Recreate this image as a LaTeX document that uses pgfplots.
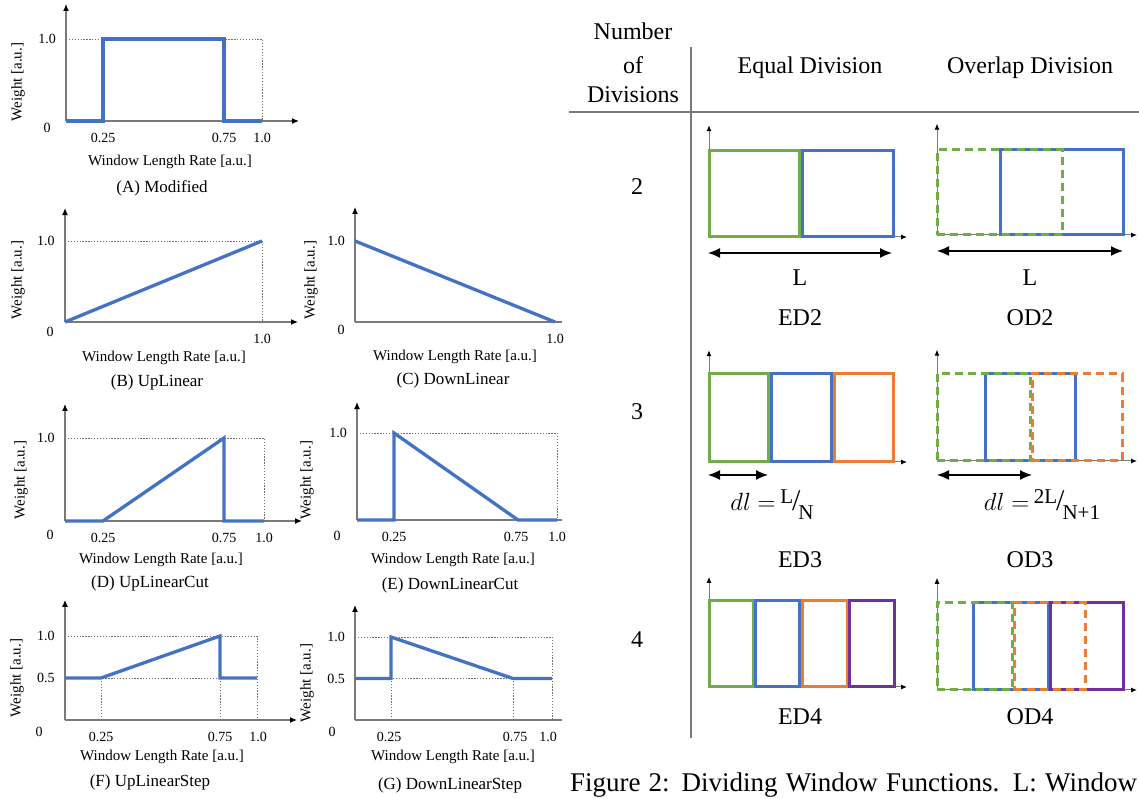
\documentclass[border=0pt]{standalone}
\usepackage{fontspec}
\setmainfont{Liberation Serif}
\usepackage{pgfplots}
\pgfplotsset{compat=1.18}
\usetikzlibrary{arrows.meta}
\definecolor{wblue}{HTML}{4472C4}
\definecolor{wgreen}{HTML}{70AD47}
\definecolor{worange}{HTML}{ED7D31}
\definecolor{wpurple}{HTML}{7030A0}
\definecolor{axgray}{HTML}{7A7A7A}
\definecolor{dotgray}{HTML}{707070}
\newcommand{\fsa}{\fontsize{14}{16}\selectfont}
\newcommand{\fsb}{\fontsize{15}{17}\selectfont}
\newcommand{\fsc}{\fontsize{17}{19}\selectfont}
\newcommand{\fsr}{\fontsize{24}{26}\selectfont}
\pgfplotsset{
  wf/.style={anchor=south west, xmin=0, ymin=0, x=1pt, clip=false,
    axis lines=left, enlargelimits=false,
    axis line style={draw=axgray, line width=1.2pt},
    x axis line style={-{Latex[length=7pt,width=6pt,color=black]}},
    y axis line style={-{Latex[length=7pt,width=6pt,color=black]}},
    major tick length=0pt, tick style={draw=none},
    tick label style={font=\fsa, inner sep=0pt},
    xticklabel style={anchor=center, yshift=-17pt},
    yticklabel style={anchor=center, xshift=-19pt},
    /pgf/number format/assume math mode=true},
  rf/.style={anchor=south west, xmin=0, ymin=0, x=1pt, clip=false,
    axis lines=left, enlargelimits=false,
    axis line style={draw=axgray, line width=1pt},
    x axis line style={-{Latex[length=6pt,width=5pt,color=black]}},
    y axis line style={-{Latex[length=6pt,width=5pt,color=black]}},
    xtick=\empty, ytick=\empty},
  wline/.style={draw=wblue, line width=3.3pt, line join=miter},
  dotline/.style={draw=dotgray, line width=0.9pt, dash pattern=on 1.3pt off 1.6pt},
  rect/.style={line width=3pt, line join=miter},
  drect/.style={line width=3pt, line join=miter, dash pattern=on 8pt off 5pt},
}
\begin{document}
\begin{tikzpicture}
\useasboundingbox (0,0) rectangle (1139pt,799pt);
% ---------------- (A) Modified
\begin{axis}[wf, at={(66pt,678pt)}, y=82pt, xmax=233, ymax=1.427,
  xtick={37,158,196}, xticklabels={0.25,0.75,1.0}, ytick={1}, yticklabels={1.0}]
\addplot[dotline] coordinates {(0,1) (196,1) (196,0)};
\addplot[wline] coordinates {(0,0) (37,0) (37,1) (158,1) (158,0) (196,0)};
\end{axis}
% ---------------- (B) UpLinear
\begin{axis}[wf, at={(65pt,477pt)}, y=81pt, xmax=233, ymax=1.407,
  xtick={197}, xticklabels={1.0}, ytick={1}, yticklabels={1.0}]
\addplot[dotline] coordinates {(0,1) (197,1) (197,0)};
\addplot[wline] coordinates {(0,0) (197,1)};
\end{axis}
% ---------------- (C) DownLinear
\begin{axis}[wf, at={(355pt,477pt)}, y=81pt, xmax=207, ymax=1.42,
  x axis line style={-},
  xtick={200}, xticklabels={1.0}, ytick={1}, yticklabels={1.0}]
\addplot[wline] coordinates {(0,1) (200,0)};
\end{axis}
% ---------------- (D) UpLinearCut
\begin{axis}[wf, at={(65pt,278pt)}, y=83pt, xmax=237, ymax=1.41,
  xtick={38,159,199}, xticklabels={0.25,0.75,1.0}, ytick={1}, yticklabels={1.0}]
\addplot[dotline] coordinates {(0,1) (199,1) (199,0)};
\addplot[wline] coordinates {(0,0) (38,0) (159,1) (159,0) (199,0)};
\end{axis}
% ---------------- (E) DownLinearCut
\begin{axis}[wf, at={(357pt,279pt)}, y=87pt, xmax=205, ymax=1.356,
  x axis line style={-},
  xtick={37,159,200}, xticklabels={0.25,0.75,1.0}, ytick={1}, yticklabels={1.0}]
\addplot[dotline] coordinates {(0,1) (200,1) (200,0)};
\addplot[wline] coordinates {(0,0) (37,0) (37,1) (161,0) (200,0)};
\end{axis}
% ---------------- (F) UpLinearStep
\begin{axis}[wf, at={(65pt,79pt)}, y=84pt, xmax=232, ymax=1.43,
  xtick={36,155,193}, xticklabels={0.25,0.75,1.0}, ytick={0.5,1}, yticklabels={0.5,1.0}]
\addplot[dotline] coordinates {(0,1) (192,1) (192,0)};
\addplot[dotline] coordinates {(36,0) (36,0.5) (192,0.5)};
\addplot[dotline] coordinates {(155,0) (155,0.5)};
\addplot[wline] coordinates {(0,0.5) (36,0.5) (155,1) (155,0.5) (192,0.5)};
\end{axis}
% ---------------- (G) DownLinearStep
\begin{axis}[wf, at={(355pt,79pt)}, y=83pt, xmax=207, ymax=1.386,
  x axis line style={-},
  xtick={34,160,193}, xticklabels={0.25,0.75,1.0}, ytick={0.5,1}, yticklabels={0.5,1.0}]
\addplot[dotline] coordinates {(0,1) (197,1) (197,0)};
\addplot[dotline] coordinates {(36,0) (36,0.5) (197,0.5)};
\addplot[dotline] coordinates {(158,0) (158,0.5)};
\addplot[wline] coordinates {(0,0.5) (36,0.5) (36,1) (158,0.5) (197,0.5)};
\end{axis}
% left panel texts
\begin{scope}[every node/.style={inner sep=0pt, anchor=center}]
\node at (47pt,671pt) {\fsa 0};
\node at (50pt,467pt) {\fsa 0};
\node at (341pt,469pt) {\fsa 0};
\node at (50pt,264pt) {\fsa 0};
\node at (337pt,263pt) {\fsa 0};
\node at (39pt,67pt) {\fsa 0};
\node at (332pt,67pt) {\fsa 0};
\node at (170pt,637pt) {\fsb Window Length Rate [a.u.]};
\node at (164pt,441pt) {\fsb Window Length Rate [a.u.]};
\node at (455pt,442pt) {\fsb Window Length Rate [a.u.]};
\node at (161pt,239pt) {\fsb Window Length Rate [a.u.]};
\node at (453pt,239pt) {\fsb Window Length Rate [a.u.]};
\node at (162pt,42pt) {\fsb Window Length Rate [a.u.]};
\node at (453pt,42pt) {\fsb Window Length Rate [a.u.]};
\node at (162pt,611pt) {\fsc (A) Modified};
\node at (157pt,417pt) {\fsc (B) UpLinear};
\node at (453pt,419pt) {\fsc (C) DownLinear};
\node at (150pt,216pt) {\fsc (D) UpLinearCut};
\node at (450pt,214pt) {\fsc (E) DownLinearCut};
\node at (150pt,17pt) {\fsc (F) UpLinearStep};
\node at (450pt,14pt) {\fsc (G) DownLinearStep};
\node[rotate=90] at (18pt,717pt) {\fsb Weight [a.u.]};
\node[rotate=90] at (18pt,519pt) {\fsb Weight [a.u.]};
\node[rotate=90] at (311pt,519pt) {\fsb Weight [a.u.]};
\node[rotate=90] at (21pt,319pt) {\fsb Weight [a.u.]};
\node[rotate=90] at (307pt,319pt) {\fsb Weight [a.u.]};
\node[rotate=90] at (17pt,121pt) {\fsb Weight [a.u.]};
\node[rotate=90] at (307pt,116pt) {\fsb Weight [a.u.]};
\end{scope}
% ---------------- right panel: ED2
\begin{axis}[rf, at={(709pt,562pt)}, y=86pt, xmax=198, ymax=1.30]
\addplot[rect, draw=wgreen] coordinates {(0,0) (90,0) (90,1) (0,1)} --cycle;
\addplot[rect, draw=wblue] coordinates {(93,0) (184,0) (184,1) (93,1)} --cycle;
\end{axis}
% OD2
\begin{axis}[rf, at={(937pt,564pt)}, y=85pt, xmax=200, ymax=1.31]
\addplot[rect, draw=wblue] coordinates {(63,0) (186,0) (186,1) (63,1)} --cycle;
\addplot[drect, draw=wgreen] coordinates {(0,0) (125,0) (125,1) (0,1)} --cycle;
\end{axis}
% ED3
\begin{axis}[rf, at={(709pt,337pt)}, y=88pt, xmax=198, ymax=1.27]
\addplot[rect, draw=wgreen] coordinates {(0,0) (59,0) (59,1) (0,1)} --cycle;
\addplot[rect, draw=wblue] coordinates {(62,0) (122,0) (122,1) (62,1)} --cycle;
\addplot[rect, draw=worange] coordinates {(125,0) (184,0) (184,1) (125,1)} --cycle;
\end{axis}
% OD3
\begin{axis}[rf, at={(937pt,338pt)}, y=87pt, xmax=200, ymax=1.28]
\addplot[rect, draw=wblue] coordinates {(48,0) (138,0) (138,1) (48,1)} --cycle;
\addplot[drect, draw=wgreen] coordinates {(0,0) (93,0) (93,1) (0,1)} --cycle;
\addplot[drect, draw=worange] coordinates {(95,0) (185,0) (185,1) (95,1)} --cycle;
\end{axis}
% ED4
\begin{axis}[rf, at={(709pt,112pt)}, y=86pt, xmax=198, ymax=1.28]
\addplot[rect, draw=wgreen] coordinates {(0,0) (44,0) (44,1) (0,1)} --cycle;
\addplot[rect, draw=wblue] coordinates {(46,0) (90,0) (90,1) (46,1)} --cycle;
\addplot[rect, draw=worange] coordinates {(93,0) (138,0) (138,1) (93,1)} --cycle;
\addplot[rect, draw=wpurple] coordinates {(140,0) (185,0) (185,1) (140,1)} --cycle;
\end{axis}
% OD4
\begin{axis}[rf, at={(937pt,109pt)}, y=87pt, xmax=200, ymax=1.29]
\addplot[rect, draw=wblue] coordinates {(36,0) (111,0) (111,1) (36,1)} --cycle;
\addplot[rect, draw=wpurple] coordinates {(113,0) (186,0) (186,1) (113,1)} --cycle;
\addplot[drect, draw=wgreen] coordinates {(0,0) (75,0) (75,1) (0,1)} --cycle;
\addplot[drect, draw=worange] coordinates {(77,0) (148,0) (148,1) (77,1)} --cycle;
\end{axis}
% right panel frame and texts
\draw[axgray, line width=1.5pt] (691pt,752pt) -- (691pt,61pt);
\draw[axgray, line width=1.8pt] (569pt,687pt) -- (1139pt,687pt);
\begin{scope}[line width=1.4pt, {Latex[length=12pt,width=10pt]}-{Latex[length=12pt,width=10pt]}]
\draw (708pt,546pt) -- (892pt,546pt);
\draw (937pt,548pt) -- (1123pt,548pt);
\draw (708pt,324pt) -- (768pt,324pt);
\draw (937pt,324pt) -- (1032pt,324pt);
\end{scope}
\begin{scope}[every node/.style={inner sep=0pt, anchor=center}]
\node at (633pt,768pt) {\fsr Number};
\node at (633pt,734pt) {\fsr of};
\node at (633pt,704pt) {\fsr Divisions};
\node at (810pt,731pt) {\fsr Equal Division};
\node at (1030pt,731pt) {\fsr Overlap Division};
\node at (637pt,612pt) {\fsr 2};
\node at (637pt,387pt) {\fsr 3};
\node at (637pt,159pt) {\fsr 4};
\node at (800pt,521pt) {\fsr L};
\node at (1030pt,521pt) {\fsr L};
\node at (800pt,481pt) {\fsr ED2};
\node at (1030pt,481pt) {\fsr OD2};
\node at (800pt,239pt) {\fsr ED3};
\node at (1030pt,239pt) {\fsr OD3};
\node at (800pt,82pt) {\fsr ED4};
\node at (1030pt,82pt) {\fsr OD4};
\node at (772pt,294pt) {\fontsize{28}{30}\selectfont $dl=$\,\raisebox{7pt}{\fontsize{21}{23}\selectfont L}\kern-1pt{\fontsize{30}{32}\selectfont /}\kern-2pt\raisebox{-9pt}{\fontsize{21}{23}\selectfont N}};
\node at (1042pt,294pt) {\fontsize{28}{30}\selectfont $dl=$\,\raisebox{7pt}{\fontsize{21}{23}\selectfont 2L}\kern-1pt{\fontsize{30}{32}\selectfont /}\kern-2pt\raisebox{-9pt}{\fontsize{21}{23}\selectfont N+1}};
\node at (853.5pt,14pt) {\fontsize{27}{29}\selectfont\makebox[567pt][s]{Figure 2: Dividing Window Functions. L: Window}};
\end{scope}
\end{tikzpicture}
\end{document}
